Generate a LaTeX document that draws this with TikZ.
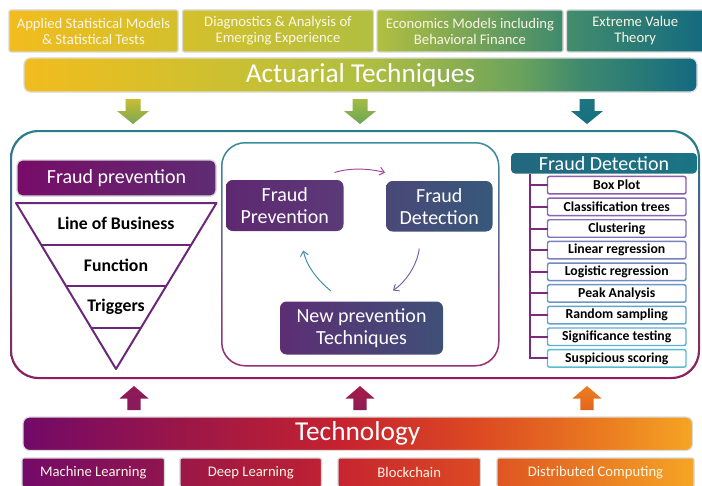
\documentclass[tikz,border=0pt]{standalone}
\usepackage{fontspec}
\setmainfont{Carlito}
\usetikzlibrary{arrows.meta,calc}

% palette
\definecolor{act0}{HTML}{F2BC1E}
\definecolor{act1}{HTML}{D4C02C}
\definecolor{act2}{HTML}{B1BF40}
\definecolor{act3}{HTML}{8EB04F}
\definecolor{act4}{HTML}{6AA35D}
\definecolor{act5}{HTML}{3F8A6E}
\definecolor{act6}{HTML}{136A80}
\definecolor{tec0}{HTML}{720968}
\definecolor{tec1}{HTML}{9A1648}
\definecolor{tec2}{HTML}{C6222F}
\definecolor{tec3}{HTML}{DC4A22}
\definecolor{tec4}{HTML}{EA7A20}
\definecolor{tec5}{HTML}{F5A524}
\definecolor{ringtop}{HTML}{2B7F8C}
\definecolor{ringbot}{HTML}{8D1F5E}
\definecolor{innertop}{HTML}{3C8E9C}
\definecolor{innerbot}{HTML}{9B2E70}
\definecolor{plum}{HTML}{6C2878}
\definecolor{treeline}{HTML}{7B2A80}
\definecolor{itemA}{HTML}{8E5AB0}
\definecolor{itemB}{HTML}{58BCD2}
\definecolor{paletext}{HTML}{FBF6E4}
\definecolor{fphL}{HTML}{780C68}
\definecolor{fphR}{HTML}{5E2C72}
\definecolor{fpL}{HTML}{5E2870}
\definecolor{fpR}{HTML}{5B3A78}
\definecolor{fdL}{HTML}{4A4878}
\definecolor{fdR}{HTML}{37587A}
\definecolor{npL}{HTML}{5C2E74}
\definecolor{npR}{HTML}{3F5078}
\definecolor{arrA}{HTML}{A0449A}
\definecolor{arrB}{HTML}{7D5A9E}
\definecolor{arrC}{HTML}{3A8CA0}
\definecolor{fdhL}{HTML}{22687E}
\definecolor{fdhR}{HTML}{1A7484}
\definecolor{mlL}{HTML}{740A68}
\definecolor{mlR}{HTML}{90154F}
\definecolor{dlL}{HTML}{9B1747}
\definecolor{dlR}{HTML}{BE2133}
\definecolor{bcL}{HTML}{C62430}
\definecolor{bcR}{HTML}{DC4A22}
\definecolor{dcL}{HTML}{DF5522}
\definecolor{dcR}{HTML}{F5A524}

\pgfdeclarehorizontalshading{actuarialshade}{100bp}{%
  color(0bp)=(act0); color(25bp)=(act0); color(36.6bp)=(act1);
  color(50bp)=(act2); color(56.6bp)=(act3); color(61.8bp)=(act4);
  color(66.3bp)=(act5); color(75bp)=(act6); color(100bp)=(act6)}
\pgfdeclarehorizontalshading{techshade}{100bp}{%
  color(0bp)=(tec0); color(25bp)=(tec0); color(36.7bp)=(tec1);
  color(48.7bp)=(tec2); color(59.1bp)=(tec3); color(68.1bp)=(tec4);
  color(75bp)=(tec5); color(100bp)=(tec5)}

\begin{document}
\begin{tikzpicture}[x=0.75pt,y=-0.75pt,
  every node/.style={outer sep=0pt, inner sep=0pt, align=center},
  % a node filling the box with corners (x1,y1) and (x2,y2)
  area/.style args={#1/#2/#3/#4}{minimum width={((#3)-(#1))*0.75pt},
    minimum height={((#4)-(#2))*0.75pt}, at={({((#1)+(#3))/2},{((#2)+(#4))/2})}},
  box/.style={draw=black!16, line width=0.9pt, rounded corners=1.5pt},
  smalltext/.style={text=paletext, font=\fontsize{11}{12}\selectfont},
  bar/.style={draw=black!14, line width=0.9pt, rounded corners=5pt,
    text=white, font=\fontsize{20.5}{24}\selectfont},
  cyclebox/.style={rounded corners=5pt, text=white,
    font=\fontsize{15}{16.5}\selectfont},
  headbox/.style={text=white, font=\fontsize{15}{17}\selectfont},
  tri/.style={draw=plum, line width=1.5pt, line join=round},
  tritext/.style={font=\bfseries\fontsize{13.3}{15}\selectfont},
  itembox/.style={fill=white, line width=1.1pt, rounded corners=1.5pt,
    font=\bfseries\fontsize{10.3}{12}\selectfont},
  treestroke/.style={draw=treeline, line width=1.5pt},
  cyclearrow/.style={line width=0.7pt, -{Straight Barb[length=3.5pt,width=6pt]}},
]
\useasboundingbox (0,0) rectangle (702,485);
\fill[white] (0,0) rectangle (702,485);

% ---------- actuarial row ----------
\node[box, smalltext, left color=act0, right color=act1, area=9/10/178/52] (tA)
  {Applied Statistical Models\\\& Statistical Tests};
\node[box, smalltext, left color=act1, right color=act2, area=182.5/10/373.5/52] (tB)
  {Diagnostics \& Analysis of\\Emerging Experience};
\node[box, smalltext, left color=act2, right color=act5, area=377/10/563/52] (tC)
  {Economics Models including\\Behavioral Finance};
\node[box, smalltext, left color=act5!90!act4, right color=act6, area=566.5/10/704/52] (tD)
  {Extreme Value\\Theory};

\node[bar, shade, shading=actuarialshade, area=24/58/697/92] (act) {Actuarial Techniques};

% block arrows pointing down
\foreach \cx/\ct/\cb in {133/C8BE30/7AA654, 360/A4BC44/6CA456, 587/1F7580/157080}{
  \definecolor{ctop}{HTML}{\ct}\definecolor{cbot}{HTML}{\cb}
  \shade[top color=ctop, bottom color=cbot]
    (\cx-7.5,99) -- (\cx+7.5,99) -- (\cx+7.5,111) -- (\cx+16,111) -- (\cx,124)
    -- (\cx-16,111) -- (\cx-7.5,111) -- cycle;
}

% ---------- main frame ----------
\shade[top color=ringtop, bottom color=ringbot, even odd rule]
  [rounded corners=21pt] (10,130) rectangle (700,379)
  [rounded corners=20pt] (12,132) rectangle (698,377);

% left column: prevention funnel
\node[box, headbox, left color=fphL, right color=fphR, rounded corners=4pt,
  area=17/160/216/196] (fph) {Fraud prevention};

\coordinate (tl) at (16,203);
\coordinate (tr) at (216.5,203);
\coordinate (tb) at (116,369);
\draw[tri] (tl) -- (tr) -- (tb) -- cycle;
\foreach \t in {0.25,0.5,0.75}
  \draw[tri] ($(tl)!\t!(tb)$) -- ($(tr)!\t!(tb)$);
\node[tritext] (lob) at (116,223) {Line of Business};
\node[tritext] (fun) at (116,265) {Function};
\node[tritext] (trg) at (116,306.5) {Triggers};

% middle column: cycle
\shade[top color=innertop, bottom color=innerbot, even odd rule]
  [rounded corners=18pt] (221,142) rectangle (499.5,366.5)
  [rounded corners=17pt] (222.5,143.5) rectangle (498,365);

\node[cyclebox, left color=fpL, right color=fpR, area=226/180/343.5/231] (fp)
  {Fraud\\Prevention};
\node[cyclebox, left color=fdL, right color=fdR, area=386/181/492.5/231.5] (fd)
  {Fraud\\Detection};
\node[cyclebox, left color=npL, right color=npR, area=280/301.5/443/354.5] (np)
  {New prevention\\Techniques};

\coordinate (a1s) at ($(fp.north east)+(-9,-7.5)$);
\coordinate (a1e) at ($(fd.north west)+(-1,-8.5)$);
\coordinate (a2s) at ($(fd.south)+(-20,17)$);
\coordinate (a2e) at ($(np.north east)+(-50,-11)$);
\coordinate (a3s) at ($(np.north west)+(51,-10.5)$);
\coordinate (a3e) at ($(fp.south)+(18.5,19.5)$);
\draw[cyclearrow, draw=arrA] (a1s) .. controls ($(a1s)+(16,-5)$) and ($(a1e)+(-16,-4)$) .. (a1e);
\draw[cyclearrow, draw=arrB] (a2s) .. controls ($(a2s)+(-2,17)$) and ($(a2e)+(12,-8)$) .. (a2e);
\draw[cyclearrow, draw=arrC] (a3s) .. controls ($(a3s)+(-15,-12)$) and ($(a3e)+(3,14)$) .. (a3e);

% right column: detection methods
\node[headbox, left color=fdhL, right color=fdhR, rounded corners=3pt,
  area=511/153/697/173.5] (fdh) {Fraud Detection};
\coordinate (tt) at (529.5,173.5);
\foreach \txt [count=\i from 0] in {Box Plot, Classification trees, Clustering,
    Linear regression, Logistic regression, Peak Analysis, Random sampling,
    Significance testing, Suspicious scoring}{
  \pgfmathsetmacro\yy{185.2+21.65*\i}
  \pgfmathsetmacro\mixv{12.5*\i}
  \node[itembox, draw=itemB!\mixv!itemA, area=547.5/\yy-8.75/686/\yy+8.75] (it\i) {\txt};
}
\draw[treestroke] (tt) |- (it8.west);
\foreach \i in {0,...,7}
  \draw[treestroke] (it\i.west -| tt) -- (it\i.west);

% block arrows pointing up
\foreach \cx/\ct/\cb in {134/8E1A58/8A1A5C, 360/A81C48/8C1D58, 587/EC7E20/E2661F}{
  \definecolor{ctop}{HTML}{\ct}\definecolor{cbot}{HTML}{\cb}
  \shade[top color=ctop, bottom color=cbot]
    (\cx,386) -- (\cx+14.5,398.5) -- (\cx+6.7,398.5) -- (\cx+6.7,410)
    -- (\cx-6.7,410) -- (\cx-6.7,398.5) -- (\cx-14.5,398.5) -- cycle;
}

% ---------- technology row ----------
\node[bar, shade, shading=techshade, area=23/417/692.5/450.5] (tech) {Technology};

\node[box, smalltext, left color=mlL, right color=mlR, area=22/458/164.5/487] (ml)
  {Machine Learning};
\node[box, smalltext, left color=dlL, right color=dlR, area=180/458/321.5/487] (dl)
  {Deep Learning};
\node[box, smalltext, left color=bcL, right color=bcR, area=338/458/480.5/487] (bc)
  {Blockchain};
\node[box, smalltext, left color=dcL, right color=dcR, area=497/458/694/487] (dc)
  {Distributed Computing};
\end{tikzpicture}
\end{document}
